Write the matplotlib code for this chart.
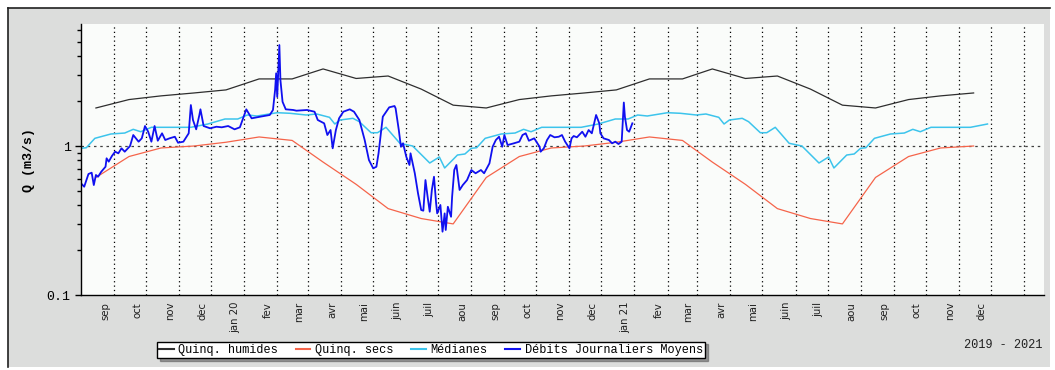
import numpy as np
import pandas as pd
import matplotlib
matplotlib.use("Agg")
import matplotlib.pyplot as plt
import matplotlib.ticker as mticker
from matplotlib.patches import Rectangle
from matplotlib.transforms import ScaledTranslation

# monthly quinquennial flows (m3/s), jan..dec, plotted on the 15th
MONTHS = ["jan", "fev", "mar", "avr", "mai", "juin", "juil", "aou", "sep", "oct", "nov", "dec"]
QUINQ_HUMIDES = [2.82, 2.82, 3.29, 2.84, 2.95, 2.41, 1.88, 1.80, 2.05, 2.17, 2.27, 2.38]
QUINQ_SECS = [1.15, 1.09, 0.78, 0.553, 0.38, 0.326, 0.30, 0.615, 0.85, 0.97, 1.00, 1.06]

# daily median climatology (month-day of a hydrological year starting in august)
MEDIAN_DAYS = ["08-01", "08-06", "08-14", "08-29", "09-11", "09-19", "09-26", "10-06",
               "10-31", "11-12", "11-28", "12-14", "12-26", "01-04", "01-13", "02-01",
               "02-13", "02-28", "03-09", "03-21", "03-26", "03-31", "04-12", "04-18",
               "04-29", "05-05", "05-13", "05-26", "06-07", "06-23", "07-02", "07-07",
               "07-19", "07-26"]
MEDIAN_Q = [0.965, 0.974, 1.126, 1.204, 1.222, 1.294, 1.247, 1.335,
            1.335, 1.335, 1.405, 1.518, 1.518, 1.615, 1.590, 1.673,
            1.658, 1.615, 1.640, 1.558, 1.405, 1.495, 1.534, 1.456,
            1.228, 1.228, 1.335, 1.043, 1.000, 0.769, 0.844, 0.712,
            0.870, 0.884]

# daily mean discharge
DEBIT_DATES = [
    "2019-08-01", "2019-08-04", "2019-08-08", "2019-08-11", "2019-08-13", "2019-08-15",
    "2019-08-17", "2019-08-20", "2019-08-24", "2019-08-25", "2019-08-27", "2019-08-30",
    "2019-09-02", "2019-09-05", "2019-09-08", "2019-09-11", "2019-09-16", "2019-09-19",
    "2019-09-24", "2019-09-27", "2019-09-30", "2019-10-03", "2019-10-06", "2019-10-09",
    "2019-10-12", "2019-10-16", "2019-10-19", "2019-10-23", "2019-10-28", "2019-10-31",
    "2019-11-05", "2019-11-10", "2019-11-12", "2019-11-14", "2019-11-17", "2019-11-20",
    "2019-11-21", "2019-11-24", "2019-11-30", "2019-12-06", "2019-12-11", "2019-12-17",
    "2019-12-23", "2019-12-28", "2019-12-31", "2020-01-03", "2020-01-08", "2020-01-16",
    "2020-01-25", "2020-01-28", "2020-01-30", "2020-01-31", "2020-02-01", "2020-02-03",
    "2020-02-04", "2020-02-06", "2020-02-09", "2020-02-16", "2020-02-19", "2020-02-29",
    "2020-03-07", "2020-03-10", "2020-03-16", "2020-03-19", "2020-03-22", "2020-03-24",
    "2020-03-27", "2020-03-30", "2020-04-03", "2020-04-09", "2020-04-13", "2020-04-18",
    "2020-04-23", "2020-04-27", "2020-05-01", "2020-05-04", "2020-05-06", "2020-05-10",
    "2020-05-16", "2020-05-21", "2020-05-22", "2020-05-25", "2020-05-27", "2020-05-29",
    "2020-06-01", "2020-06-04", "2020-06-05", "2020-06-09", "2020-06-12", "2020-06-15",
    "2020-06-17", "2020-06-19", "2020-06-21", "2020-06-23", "2020-06-25", "2020-06-27",
    "2020-06-29", "2020-06-30", "2020-07-03", "2020-07-05", "2020-07-07", "2020-07-08",
    "2020-07-10", "2020-07-13", "2020-07-14", "2020-07-16", "2020-07-18", "2020-07-21",
    "2020-07-24", "2020-07-28", "2020-08-01", "2020-08-05", "2020-08-10", "2020-08-13",
    "2020-08-18", "2020-08-21", "2020-08-24", "2020-08-27", "2020-08-30", "2020-09-01",
    "2020-09-04", "2020-09-10", "2020-09-15", "2020-09-18", "2020-09-21", "2020-09-24",
    "2020-09-29", "2020-10-04", "2020-10-05", "2020-10-08", "2020-10-11", "2020-10-14",
    "2020-10-18", "2020-10-22", "2020-10-25", "2020-10-28", "2020-11-01", "2020-11-03",
    "2020-11-05", "2020-11-08", "2020-11-13", "2020-11-16", "2020-11-19", "2020-11-22",
    "2020-11-26", "2020-11-29", "2020-11-30", "2020-12-03", "2020-12-08", "2020-12-11",
    "2020-12-14", "2020-12-17", "2020-12-20", "2020-12-22", "2020-12-23", "2020-12-25",
    "2020-12-27", "2020-12-30",
]
DEBIT_Q = [
    0.562, 0.533, 0.649, 0.662, 0.547, 0.639,
    0.622, 0.672, 0.726, 0.827, 0.785, 0.857,
    0.916, 0.893, 0.965, 0.916, 1.000, 1.185,
    1.069, 1.126, 1.362, 1.247, 1.069, 1.362,
    1.085, 1.217, 1.097, 1.126, 1.154, 1.052,
    1.069, 1.217, 1.884, 1.495, 1.294, 1.615,
    1.763, 1.362, 1.315, 1.347, 1.335, 1.362,
    1.294, 1.335, 1.534, 1.763, 1.534, 1.573,
    1.615, 1.745, 2.376, 3.076, 2.140, 4.760,
    2.770, 1.980, 1.763, 1.745, 1.726, 1.745,
    1.699, 1.495, 1.420, 1.185, 1.280, 0.965,
    1.280, 1.534, 1.699, 1.763, 1.699, 1.495,
    1.097, 0.805, 0.708, 0.726, 0.893, 1.573,
    1.818, 1.855, 1.790, 1.280, 0.989, 1.043,
    0.848, 0.746, 0.893, 0.656, 0.482, 0.372,
    0.368, 0.591, 0.457, 0.362, 0.507, 0.622,
    0.412, 0.353, 0.402, 0.266, 0.353, 0.273,
    0.391, 0.335, 0.457, 0.690, 0.746, 0.507,
    0.547, 0.591, 0.690, 0.656, 0.690, 0.656,
    0.765, 0.989, 1.097, 1.154, 0.989, 1.185,
    1.015, 1.043, 1.069, 1.185, 1.217, 1.085,
    1.126, 0.989, 0.916, 0.965, 1.097, 1.185,
    1.144, 1.154, 1.185, 1.069, 0.965, 1.126,
    1.167, 1.144, 1.247, 1.154, 1.280, 1.217,
    1.615, 1.420, 1.217, 1.126, 1.097, 1.043,
    1.069, 1.031, 1.069, 1.958, 1.573, 1.280,
    1.247, 1.420,
]

START, END = pd.Timestamp("2019-08-01"), pd.Timestamp("2022-01-20")
MEDIAN_END = pd.Timestamp("2021-12-01")

# quinquennial curves: one value per month on the 15th
qdates = pd.date_range("2019-08-01", "2021-11-01", freq="MS") + pd.Timedelta(days=14)
q_hum = [QUINQ_HUMIDES[d.month - 1] for d in qdates]
q_sec = [QUINQ_SECS[d.month - 1] for d in qdates]

# median climatology repeated over each hydrological year
med_dates, med_q = [], []
for y in (2019, 2020, 2021):
    for md, q in zip(MEDIAN_DAYS, MEDIAN_Q):
        yr = y if int(md[:2]) >= 8 else y + 1
        d = pd.Timestamp(f"{yr}-{md}")
        if d <= MEDIAN_END:
            med_dates.append(d)
            med_q.append(q)

ddates = pd.to_datetime(DEBIT_DATES)

PANEL = "#dcdddc"
MONO = ["Liberation Mono", "DejaVu Sans Mono"]
W, H = 1055, 370

fig = plt.figure(figsize=(W / 100, H / 100), dpi=100, facecolor="white")
panel = Rectangle((8 / W, 3 / H), 1042 / W, 359 / H, transform=fig.transFigure,
                  facecolor=PANEL, edgecolor="none", zorder=-10)
fig.add_artist(panel)
fig.add_artist(plt.Line2D([8 / W, 1050 / W], [362 / H, 362 / H], transform=fig.transFigure,
                          color="#202020", lw=1.2, zorder=-5))
fig.add_artist(plt.Line2D([8 / W, 8 / W], [3 / H, 362 / H], transform=fig.transFigure,
                          color="#202020", lw=1.2, zorder=-5))

ax = fig.add_axes([81 / W, 75 / H, 963 / W, 271 / H])
ax.set_facecolor("#fafcfa")
ax.set_yscale("log")
ax.set_ylim(0.1, 6.59)
ax.set_xlim(START, END)

ax.plot(qdates, q_hum, color="#2e2e2e", lw=0.9, label="Quinq. humides")
ax.plot(qdates, q_sec, color="#f5644a", lw=0.9, label="Quinq. secs")
ax.plot(med_dates, med_q, color="#3cc4ec", lw=1.1, label="Médianes")
ax.plot(ddates, DEBIT_Q, color="#1010f0", lw=1.3, label="Débits Journaliers Moyens")

ax.axhline(1, color="#404040", lw=0.9, ls=(0, (2, 3)), zorder=1)

for s in ("top", "right"):
    ax.spines[s].set_visible(False)
for s in ("left", "bottom"):
    ax.spines[s].set_color("black")
    ax.spines[s].set_linewidth(1.0)

# month gridlines, labels sit just left of each line
ticks = pd.date_range("2019-09-01", "2022-01-01", freq="MS")
labels = []
for t in ticks:
    if t.year == 2022:
        labels.append("")
    elif t.month == 1:
        labels.append(f"jan {t.year % 100:02d}")
    else:
        labels.append(MONTHS[t.month - 1])
ax.set_xticks(ticks)
ax.set_xticklabels(labels, rotation=90, fontsize=7.3, family="DejaVu Sans", color="#202020")
ax.tick_params(axis="x", length=0, pad=5)
shift = ScaledTranslation(-9 / 100, 0, fig.dpi_scale_trans)
for lab in ax.get_xticklabels():
    lab.set_transform(lab.get_transform() + shift)
ax.grid(axis="x", color="black", lw=0.9, ls=(0, (1, 2.5)))

ax.yaxis.set_major_locator(mticker.FixedLocator([0.1, 1]))
ax.yaxis.set_major_formatter(mticker.FixedFormatter(["0.1", "1"]))
ax.yaxis.set_minor_locator(mticker.LogLocator(base=10, subs=np.arange(2, 10)))
ax.yaxis.set_minor_formatter(mticker.NullFormatter())
ax.tick_params(axis="y", which="major", length=4.5, width=1, labelsize=9.5, pad=3)
ax.tick_params(axis="y", which="minor", length=3, width=1)
for lab in ax.get_yticklabels():
    lab.set_family(MONO)
ax.set_ylabel("Q (m3/s)", family=MONO, fontsize=9.5, fontweight="bold", labelpad=8)

leg = fig.legend(loc="center", bbox_to_anchor=(431 / W, 1 - 350 / H), ncol=4, frameon=True,
                 fancybox=False, shadow=True, prop={"family": MONO, "size": 8.6},
                 handlelength=1.2, handletextpad=0.4, columnspacing=1.5, borderpad=0.2,
                 borderaxespad=0)
leg.get_frame().set_edgecolor("black")
leg.get_frame().set_linewidth(1.0)
for line in leg.get_lines():
    line.set_linewidth(1.5)

fig.text(1042 / W, 1 - 345 / H, "2019 - 2021", ha="right", va="center", family=MONO,
         fontsize=8.6, color="#202020")

fig.savefig("out.png", dpi=100, facecolor=fig.get_facecolor())
